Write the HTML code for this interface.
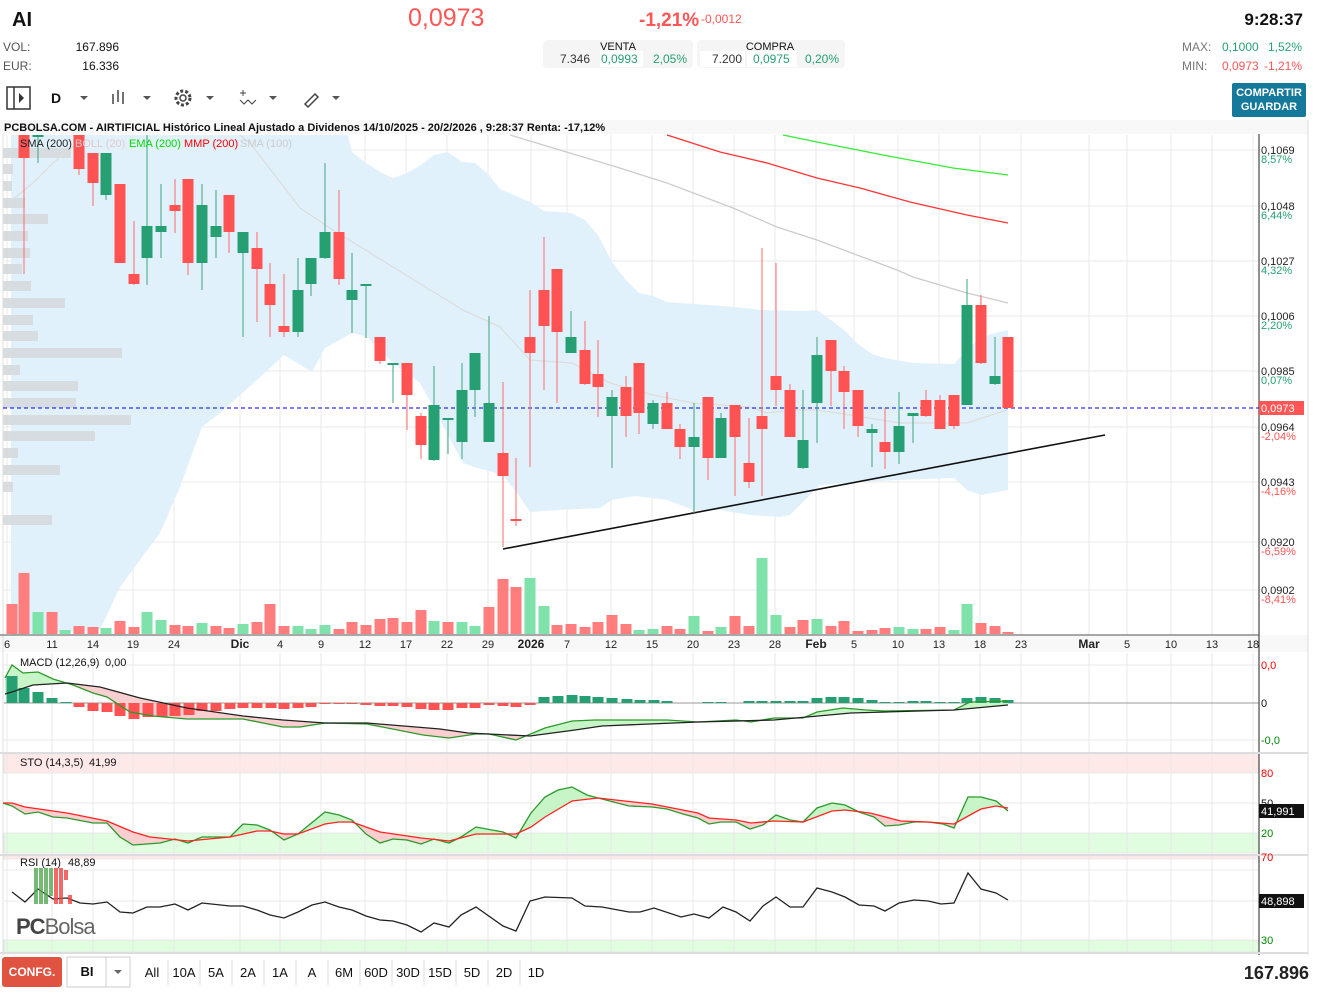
<!DOCTYPE html>
<html><head><meta charset="utf-8">
<style>
html,body{margin:0;padding:0;background:#fff;width:1322px;height:993px;overflow:hidden;font-family:"Liberation Sans",sans-serif}
svg{position:absolute;left:0;top:0}
</style></head><body>
<svg id="s" width="1322" height="993" xmlns="http://www.w3.org/2000/svg" font-family="Liberation Sans, sans-serif">
<text x="12" y="26" font-size="20" font-weight="bold" fill="#111">AI</text>
<text x="408" y="26" font-size="25" fill="#f55">0,0973</text>
<text x="639" y="26" font-size="19" font-weight="bold" fill="#f55">-1,21%</text>
<text x="701" y="23" font-size="12" fill="#f55">-0,0012</text>
<text x="1303" y="25" font-size="17" font-weight="bold" fill="#111" text-anchor="end">9:28:37</text>
<text x="3" y="51" font-size="12" fill="#555">VOL:</text>
<text x="119" y="51" font-size="12" fill="#111" text-anchor="end">167.896</text>
<text x="3" y="70" font-size="12" fill="#555">EUR:</text>
<text x="119" y="70" font-size="12" fill="#111" text-anchor="end">16.336</text>
<rect x="543" y="40" width="150" height="28" rx="4" fill="#f5f5f5"/>
<rect x="697" y="40" width="148" height="28" rx="4" fill="#f5f5f5"/>
<rect x="600" y="51" width="43" height="16" fill="#fff"/><rect x="747" y="51" width="50" height="16" fill="#fff"/><rect x="700" y="51" width="45" height="16" fill="#fff"/>
<text x="618" y="50" font-size="11" fill="#111" text-anchor="middle">VENTA</text>
<text x="770" y="50" font-size="11" fill="#111" text-anchor="middle">COMPRA</text>
<text x="590" y="63" font-size="12" fill="#333" text-anchor="end">7.346</text>
<text x="601" y="63" font-size="12" fill="#26a073">0,0993</text>
<text x="687" y="63" font-size="12" fill="#26a073" text-anchor="end">2,05%</text>
<text x="742" y="63" font-size="12" fill="#333" text-anchor="end">7.200</text>
<text x="753" y="63" font-size="12" fill="#26a073">0,0975</text>
<text x="839" y="63" font-size="12" fill="#26a073" text-anchor="end">0,20%</text>
<text x="1182" y="51" font-size="12" fill="#777">MAX:</text>
<text x="1222" y="51" font-size="12" fill="#26a073">0,1000</text>
<text x="1302" y="51" font-size="12" fill="#26a073" text-anchor="end">1,52%</text>
<text x="1182" y="70" font-size="12" fill="#777">MIN:</text>
<text x="1222" y="70" font-size="12" fill="#f55">0,0973</text>
<text x="1302" y="70" font-size="12" fill="#f55" text-anchor="end">-1,21%</text>
<rect x="1232" y="83" width="74" height="34" rx="2" fill="#14799b"/>
<text x="1269" y="96" font-size="11" font-weight="bold" fill="#fff" text-anchor="middle">COMPARTIR</text>
<text x="1269" y="110" font-size="11" font-weight="bold" fill="#fff" text-anchor="middle">GUARDAR</text>
<rect x="7" y="87" width="23" height="22" fill="none" stroke="#333" stroke-width="1.5"/>
<line x1="14" y1="87" x2="14" y2="109" stroke="#333" stroke-width="1.5"/>
<path d="M19 93 L24 98 L19 103Z" fill="#333"/>
<text x="51" y="103" font-size="14" font-weight="bold" fill="#111">D</text>
<path d="M80 96 h8 l-4 4z M143 96 h8 l-4 4z M206 96 h8 l-4 4z M269 96 h8 l-4 4z M332 96 h8 l-4 4z" fill="#555"/>
<g stroke="#444" stroke-width="1.5"><line x1="113" y1="94" x2="113" y2="104"/><line x1="118" y1="90" x2="118" y2="102"/><line x1="123" y1="92" x2="123" y2="104"/></g>
<circle cx="183" cy="98" r="7" fill="none" stroke="#444" stroke-width="3" stroke-dasharray="3 2"/><circle cx="183" cy="98" r="3" fill="none" stroke="#444" stroke-width="1.5"/>
<path d="M240 100 l4 4 l4 -4 l4 4 l4 -4" fill="none" stroke="#444"/><path d="M243 90 v6 M240 93 h6" stroke="#444"/>
<path d="M305 104 l10 -10 l3 3 l-10 10z" fill="none" stroke="#444" stroke-width="1.5"/>
<rect x="0" y="120" width="1308" height="14" fill="#f8f8f8"/>
<text x="4" y="131" font-size="11" font-weight="bold" fill="#111">PCBOLSA.COM - AIRTIFICIAL Histórico Lineal Ajustado a Dividenos 14/10/2025 - 20/2/2026 , 9:28:37 Renta: -17,12%</text>
<rect x="0" y="635" width="1308" height="17" fill="#f8f8f8"/>
<line x1="1308" y1="120" x2="1308" y2="955" stroke="#ddd"/>
<line x1="3" y1="134" x2="3" y2="955" stroke="#ddd"/>
<g id="grid" stroke="#e8e8e8" stroke-width="1"></g>
<g id="main"></g>
<line x1="1259" y1="134" x2="1259" y2="955" stroke="#222"/>
<line x1="0" y1="635" x2="1259" y2="635" stroke="#555"/>
<rect x="0" y="752" width="1308" height="2" fill="#ddd"/><rect x="0" y="854" width="1308" height="2" fill="#ddd"/><rect x="0" y="952" width="1308" height="2" fill="#ddd"/>
<g font-size="11" fill="#222">
<text x="20" y="147">SMA (200)</text><text x="75" y="147" fill="#e6c8c8">BOLL (20)</text><text x="129" y="147" fill="#0d0">EMA (200)</text><text x="184" y="147" fill="#f00">MMP (200)</text><text x="240" y="147" fill="#ccc">SMA (100)</text>
</g>
<g font-size="11" fill="#222">
<text x="1261" y="154">0,1069</text><text x="1261" y="163" fill="#26a073">8,57%</text>
<text x="1261" y="210">0,1048</text><text x="1261" y="219" fill="#26a073">6,44%</text>
<text x="1261" y="265">0,1027</text><text x="1261" y="274" fill="#26a073">4,32%</text>
<text x="1261" y="320">0,1006</text><text x="1261" y="329" fill="#26a073">2,20%</text>
<text x="1261" y="375">0,0985</text><text x="1261" y="384" fill="#26a073">0,07%</text>
<text x="1261" y="431">0,0964</text><text x="1261" y="440" fill="#f55">-2,04%</text>
<text x="1261" y="486">0,0943</text><text x="1261" y="495" fill="#f55">-4,16%</text>
<text x="1261" y="546">0,0920</text><text x="1261" y="555" fill="#f55">-6,59%</text>
<text x="1261" y="594">0,0902</text><text x="1261" y="603" fill="#f55">-8,41%</text>
</g>
<rect x="1259" y="401" width="45" height="14" fill="#f55"/>
<text x="1261" y="412" font-size="11" fill="#fff">0,0973</text>
<g font-size="11" fill="#222" text-anchor="middle">
<text x="7" y="648">6</text><text x="52" y="648">11</text><text x="93" y="648">14</text><text x="133" y="648">19</text><text x="174" y="648">24</text><text x="240" y="648" font-weight="bold" font-size="12">Dic</text><text x="280" y="648">4</text><text x="321" y="648">9</text><text x="365" y="648">12</text><text x="406" y="648">17</text><text x="447" y="648">22</text><text x="488" y="648">29</text><text x="531" y="648" font-weight="bold" font-size="12">2026</text><text x="567" y="648">7</text><text x="611" y="648">12</text><text x="652" y="648">15</text><text x="693" y="648">20</text><text x="734" y="648">23</text><text x="775" y="648">28</text><text x="816" y="648" font-weight="bold" font-size="12">Feb</text><text x="854" y="648">5</text><text x="898" y="648">10</text><text x="939" y="648">13</text><text x="980" y="648">18</text><text x="1021" y="648">23</text><text x="1089" y="648" font-weight="bold" font-size="12">Mar</text><text x="1127" y="648">5</text><text x="1171" y="648">10</text><text x="1212" y="648">13</text><text x="1253" y="648">18</text>
</g>
<g font-size="11" fill="#111">
<text x="20" y="666">MACD (12,26,9)</text><text x="105" y="666">0,00</text>
<text x="20" y="766">STO (14,3,5)</text><text x="89" y="766">41,99</text>
<text x="20" y="866">RSI (14)</text><text x="68" y="866">48,89</text>
</g>
<g font-size="11">
<text x="1261" y="669" fill="#f00">0,0</text><text x="1261" y="707" fill="#111">0</text><text x="1261" y="744" fill="#080">-0,0</text>
<text x="1261" y="777" fill="#f00">80</text><text x="1261" y="807" fill="#111">50</text><text x="1261" y="837" fill="#080">20</text>
<text x="1261" y="861" fill="#f00">70</text><text x="1261" y="944" fill="#080">30</text>
</g>
<rect x="1259" y="804" width="45" height="14" fill="#111"/><text x="1261" y="815" font-size="11" fill="#fff">41,991</text>
<rect x="1259" y="894" width="45" height="14" fill="#111"/><text x="1261" y="905" font-size="11" fill="#fff">48,898</text>
<g opacity="0.8"><g stroke-width="4"><line x1="36" y1="868" x2="36" y2="904" stroke="#5a5"/><line x1="41" y1="868" x2="41" y2="904" stroke="#5a5"/><line x1="46" y1="868" x2="46" y2="904" stroke="#5a5"/><line x1="51" y1="868" x2="51" y2="896" stroke="#5a5"/><line x1="56" y1="868" x2="56" y2="904" stroke="#e44"/><line x1="61" y1="868" x2="61" y2="904" stroke="#e44"/><line x1="66" y1="870" x2="66" y2="880" stroke="#e44"/><line x1="70" y1="895" x2="70" y2="904" stroke="#e44"/></g></g>
<text x="16" y="934" font-size="22" fill="#444" font-weight="bold" letter-spacing="-1">PC<tspan font-weight="normal" fill="#666">Bolsa</tspan></text>
<rect x="2" y="957" width="60" height="30" rx="3" fill="#df5340"/>
<text x="32" y="976" font-size="12" font-weight="bold" fill="#fff" text-anchor="middle">CONFG.</text>
<rect x="67" y="957" width="63" height="30" fill="#fff" stroke="#ccc"/><line x1="106" y1="957" x2="106" y2="987" stroke="#ccc"/>
<text x="87" y="976" font-size="13" font-weight="bold" fill="#111" text-anchor="middle">BI</text>
<path d="M114 970 h8 l-4 4z" fill="#666"/>
<g font-size="13" fill="#111" text-anchor="middle">
<text x="152" y="977">All</text><text x="184" y="977">10A</text><text x="216" y="977">5A</text><text x="248" y="977">2A</text><text x="280" y="977">1A</text><text x="312" y="977">A</text><text x="344" y="977">6M</text><text x="376" y="977">60D</text><text x="408" y="977">30D</text><text x="440" y="977">15D</text><text x="472" y="977">5D</text><text x="504" y="977">2D</text><text x="536" y="977">1D</text>
</g>
<g stroke="#ddd"><line x1="168" y1="960" x2="168" y2="985"/><line x1="200" y1="960" x2="200" y2="985"/><line x1="232" y1="960" x2="232" y2="985"/><line x1="264" y1="960" x2="264" y2="985"/><line x1="296" y1="960" x2="296" y2="985"/><line x1="328" y1="960" x2="328" y2="985"/><line x1="360" y1="960" x2="360" y2="985"/><line x1="392" y1="960" x2="392" y2="985"/><line x1="424" y1="960" x2="424" y2="985"/><line x1="456" y1="960" x2="456" y2="985"/><line x1="488" y1="960" x2="488" y2="985"/><line x1="520" y1="960" x2="520" y2="985"/></g>
<text x="1309" y="979" font-size="18" font-weight="bold" fill="#222" text-anchor="end">167.896</text>
</svg>
<script>
var NS="http://www.w3.org/2000/svg";
function el(p,t,a){var e=document.createElementNS(NS,t);for(var k in a)e.setAttribute(k,a[k]);p.appendChild(e);return e;}
var G=document.getElementById('grid'),M=document.getElementById('main');
el(G,'rect',{x:4,y:754,width:1255,height:19,fill:'#ffe8e8'});
el(G,'rect',{x:4,y:833,width:1255,height:20,fill:'#e0fde0'});
el(G,'rect',{x:4,y:856,width:1255,height:3,fill:'#ffe8e8'});
el(G,'rect',{x:4,y:940,width:1255,height:12,fill:'#e0fde0'});
[7,52,93,133,174,240,280,321,365,406,447,488,531,567,611,652,693,734,775,816,854,898,939,980,1021,1089,1127,1171,1212,1253].forEach(function(x){el(G,'line',{x1:x,y1:135,x2:x,y2:635});el(G,'line',{x1:x,y1:653,x2:x,y2:952});});
[150,206,261,316,371,427,482,542,590].forEach(function(y){el(G,'line',{x1:4,y1:y,x2:1259,y2:y});});
[665,740,773,803,833,870,901,940].forEach(function(y){el(G,'line',{x1:4,y1:y,x2:1259,y2:y});});
el(G,'line',{x1:4,y1:703,x2:1259,y2:703,stroke:'#999'});
var up=[[11,135],[348,135],[352,152],[366,163],[380,172],[393,178],[407,173],[421,165],[434,155],[448,152],[462,162],[475,163],[489,175],[500,189],[530,202],[544,211],[571,213],[585,220],[598,235],[612,262],[626,280],[639,293],[653,296],[667,302],[694,304],[735,307],[762,310],[803,311],[817,310],[831,320],[844,330],[858,344],[872,354],[885,358],[913,363],[954,364],[967,350],[981,337],[995,333],[1008,330]];
var lo=[[11,635],[100,630],[120,587],[160,533],[180,487],[202,427],[220,413],[257,380],[284,355],[312,372],[325,348],[352,333],[367,337],[393,363],[420,383],[433,407],[463,463],[477,468],[503,475],[520,497],[530,512],[560,510],[600,508],[612,500],[635,496],[667,500],[694,510],[720,510],[750,515],[780,517],[790,515],[800,505],[820,485],[858,482],[900,480],[954,478],[967,490],[981,495],[1008,490]];
function pts(a){return a.map(function(p){return p.join(',')}).join(' ');}
el(M,'polygon',{points:pts(up.concat(lo.slice().reverse())),fill:'#e1f1fc'});
[[148,68],[164,10],[181,9],[198,22],[214,45],[231,25],[248,27],[264,19],[281,28],[298,62],[315,30],[331,35],[348,119],[365,17],[381,75],[398,73],[415,128],[431,92],[448,15],[465,57],[482,10],[515,49]].forEach(function(b){el(M,'rect',{x:3,y:b[0],width:b[1],height:10,fill:'#d5d9dd',opacity:0.9});});
el(M,'polyline',{points:pts([[12,200],[33,183],[53,163],[77,143],[85,135]]),fill:'none',stroke:'#ddd','stroke-width':1.3});
el(M,'polyline',{points:pts([[240,135],[250,143],[300,208],[333,230],[393,267],[463,310],[500,327],[530,360],[572,363],[610,383],[653,395],[693,403],[750,407],[767,413],[790,410],[817,410],[850,415],[900,423],[967,423],[1007,410]]),fill:'none',stroke:'#ddd','stroke-width':1.3});
el(M,'polyline',{points:pts([[510,135],[553,148],[610,165],[667,183],[733,208],[777,227],[817,240],[857,255],[897,270],[913,277],[967,293],[1008,303]]),fill:'none',stroke:'#ccc','stroke-width':1.3});
el(M,'polyline',{points:pts([[667,135],[720,152],[767,163],[817,178],[860,188],[910,202],[967,215],[1008,223]]),fill:'none',stroke:'#f33','stroke-width':1.3});
el(M,'polyline',{points:pts([[783,135],[817,142],[883,155],[953,168],[1008,175]]),fill:'none',stroke:'#3e3','stroke-width':1.3});
var V="12r604 24r573 38g612 52r612 65g630 79r626 93r627 106g628 120r621 134r627 147g612 161g620 175r625 188r626 202g623 216r626 229r628 243g624 257r622 270r604 284r626 298g626 311g629 325g625 339r629 352r622 366r625 380r619 393r618 407r622 421r610 434g621 448r622 462g622 475g626 489r607 503r579 516r587 530g578 544g606 557r625 571r624 585r627 598r622 612r615 626r624 639g630 653g629 667r626 680r629 694g616 708r631 721g627 735r616 749r626 762g558 776g615 790r627 803r620 817g619 831r626 844r621 858r631 872r630 885r628 899g627 913g629 926r629 940r627 954g630 967g604 981r623 995r626 1008r632";
V.split(' ').forEach(function(s){var m=s.match(/(\d+)([rg])(\d+)/);var x=+m[1],y=+m[3];el(M,'rect',{x:x-5.5,y:y,width:11,height:634-y,fill:m[2]=='r'?'#ff7676':'#78e0a6',opacity:0.95});});
el(M,'line',{x1:3,y1:408,x2:1259,y2:408,stroke:'#00f','stroke-dasharray':'4 3'});
el(M,'line',{x1:503,y1:549,x2:1105,y2:435,stroke:'#111','stroke-width':1.6});
var C=[[24,'r',135,158,135,274],[38,'g',135,135,135,163],[79,'r',135,169,135,175],[93,'r',153,183,153,206],[106,'g',153,195,153,200],[120,'r',184,263,184,263],[134,'r',274,284,221,285],[147,'g',226,258,135,285],[161,'g',226,232,184,258],[175,'r',205,211,179,233],[188,'r',179,263,179,275],[202,'g',205,263,184,290],[216,'g',226,237,190,258],[229,'r',195,232,195,253],[243,'g',232,253,232,337],[257,'r',248,269,232,322],[270,'r',284,305,263,337],[284,'r',326,332,274,337],[298,'g',290,332,258,337],[311,'g',258,284,258,296],[325,'g',232,258,163,259],[339,'r',232,279,190,285],[352,'g',290,300,253,333],[366,'g',284,285,284,338],[380,'r',337,361,337,364],[393,'g',363,364,363,403],[407,'r',363,395,363,430],[421,'r',416,445,413,459],[434,'g',405,460,366,461],[448,'g',418,419,418,454],[462,'g',390,442,363,459],[475,'g',353,390,353,417],[489,'g',403,442,316,442],[503,'r',453,476,382,547],[516,'r',519,521,458,526],[530,'r',337,353,290,467],[544,'r',290,326,237,390],[557,'r',269,332,269,403],[571,'g',337,353,311,353],[585,'r',350,384,321,385],[598,'r',374,387,340,417],[612,'g',397,416,390,468],[626,'r',387,416,376,437],[639,'r',363,413,363,434],[653,'g',403,424,400,429],[667,'r',403,429,392,429],[680,'r',429,447,424,459],[694,'g',437,447,403,513],[708,'r',397,458,397,480],[721,'g',418,458,413,458],[735,'r',405,437,405,496],[749,'r',463,482,418,488],[762,'r',416,429,248,496],[776,'r',376,390,263,406],[790,'r',390,437,384,437],[803,'g',440,468,390,469],[817,'g',355,403,337,443],[831,'r',340,371,340,406],[844,'r',371,392,366,429],[858,'r',390,426,390,437],[872,'g',429,433,424,467],[885,'r',442,452,408,469],[899,'g',426,452,392,464],[913,'g',413,416,413,443],[926,'r',400,416,390,417],[940,'r',400,429,395,429],[954,'r',395,426,395,429],[967,'g',305,405,279,405],[981,'r',305,363,295,364],[995,'g',376,384,337,385],[1008,'r',337,408,337,408]];
C.forEach(function(c){var col=c[1]=='r'?'#ff5252':'#26a073';el(M,'line',{x1:c[0],y1:c[4],x2:c[0],y2:c[5],stroke:c[1]=='r'?'#ff6b6b':'#3aa57c','stroke-width':1});el(M,'rect',{x:c[0]-5.5,y:c[2],width:11,height:Math.max(2,c[3]-c[2]),fill:col});});
var cid=0;
function fillBetween(A,B,ga,pb){var poly=pts(A.concat(B.slice().reverse()));var b0=B[0],b1=B[B.length-1];
 var upR=[[0,b0[1]]].concat(B).concat([[1260,b1[1]],[1260,0],[0,0]]);var dnR=[[0,b0[1]]].concat(B).concat([[1260,b1[1]],[1260,993],[0,993]]);
 var d=document.querySelector('defs')||el(document.getElementById('s'),'defs',{});
 var c1='c'+(cid++),c2='c'+(cid++);el(el(d,'clipPath',{id:c1}),'polygon',{points:pts(upR)});el(el(d,'clipPath',{id:c2}),'polygon',{points:pts(dnR)});
 el(M,'polygon',{points:poly,fill:ga,'clip-path':'url(#'+c1+')'});el(M,'polygon',{points:poly,fill:pb,'clip-path':'url(#'+c2+')'});}
var H="12g676 24g688 38g692 52g698 66g702 79r707 93r711 107r712 120r716 134r719 148r717 162r717 175r716 189r715 202r711 216r711 230r709 243r708 257r708 271r708 284r709 298r708 311r707 325r704 339r704 352r704 366r705 380r706 393r706 407r707 421r709 434r710 448r710 462r708 475r708 489r705 503r706 516r707 530r705 544g697 558g696 572g695 585g696 598g697 612g698 627g699 640g700 654g700 667g701 708g702 721g702 749g701 762g701 776g701 790g701 803g701 817g698 831g697 844g697 858g698 872g700 885g702 899g702 913g701 926g701 940g702 954g702 967g698 981g697 995g698 1008g700";
var macd=[[5,678],[12,665],[23,673],[38,672],[53,679],[73,685],[93,693],[107,697],[130,712],[153,716],[187,719],[243,719],[283,727],[300,727],[325,723],[367,724],[423,735],[449,738],[476,734],[489,734],[516,740],[545,728],[572,721],[595,720],[667,720],[698,722],[736,720],[751,722],[774,718],[803,718],[817,712],[843,708],[866,710],[885,711],[954,710],[970,702],[1008,701]];
var sig=[[5,694],[12,692],[33,685],[67,683],[100,687],[140,698],[187,708],[243,716],[283,720],[325,723],[367,723],[440,729],[468,733],[530,736],[575,730],[602,726],[698,722],[774,720],[851,713],[954,710],[1008,705]];
fillBetween(macd,sig,'#c8f5c8','#fbcfcf');
H.split(' ').forEach(function(s){var m=s.match(/(\d+)([rg])(\d+)/);var x=+m[1],y=+m[3];el(M,'rect',{x:x-5.5,y:Math.min(y,703),width:11,height:Math.max(1,Math.abs(y-703)),fill:m[2]=='r'?'#ff5252':'#26a073'});});
el(M,'polyline',{points:pts(macd),fill:'none',stroke:'#2a9a2a','stroke-width':1.3});
el(M,'polyline',{points:pts(sig),fill:'none',stroke:'#222','stroke-width':1.3});
var K=[[3,803],[12,806],[25,814],[38,812],[53,817],[67,818],[93,823],[107,823],[120,837],[133,845],[160,843],[175,839],[188,843],[202,837],[230,837],[243,824],[257,825],[270,830],[284,840],[298,834],[325,812],[339,815],[352,820],[366,834],[380,843],[393,839],[407,840],[421,844],[434,839],[449,843],[461,837],[476,827],[503,832],[516,838],[531,813],[545,797],[558,790],[572,787],[587,795],[602,799],[629,806],[652,807],[667,809],[683,814],[698,818],[709,824],[721,822],[736,822],[750,829],[763,825],[776,815],[790,820],[803,822],[817,808],[832,803],[845,805],[859,812],[874,817],[885,826],[899,825],[914,822],[928,822],[943,824],[954,828],[968,797],[981,797],[996,801],[1008,811]];
var D=[[3,803],[12,803],[25,807],[67,813],[107,821],[133,832],[150,837],[188,841],[230,837],[257,831],[270,831],[284,834],[298,834],[325,824],[339,822],[352,822],[366,827],[380,832],[421,838],[440,840],[449,841],[476,834],[516,834],[531,827],[545,817],[572,801],[598,798],[652,804],[698,813],[709,818],[736,820],[751,823],[774,821],[803,822],[832,811],[845,810],[870,813],[901,821],[928,822],[954,824],[970,815],[981,809],[996,806],[1008,808]];
fillBetween(K,D,'#c8f5c8','#fbcfcf');
el(M,'polyline',{points:pts(K),fill:'none',stroke:'#2a9a2a','stroke-width':1.3});
el(M,'polyline',{points:pts(D),fill:'none',stroke:'#f22','stroke-width':1.3});
var R=[[12,892],[25,902],[38,889],[53,899],[67,898],[80,903],[93,904],[107,902],[120,912],[133,913],[147,907],[160,907],[175,904],[188,910],[202,903],[230,906],[243,906],[257,910],[270,915],[284,918],[298,912],[312,905],[325,902],[339,907],[352,910],[366,916],[380,920],[393,921],[407,925],[421,932],[434,923],[449,927],[461,915],[476,907],[503,926],[516,931],[530,901],[545,897],[572,898],[585,906],[602,907],[629,912],[640,912],[654,908],[681,917],[694,914],[709,918],[723,907],[736,912],[750,921],[763,906],[776,897],[790,907],[803,907],[817,888],[832,892],[845,897],[859,905],[874,906],[885,911],[899,903],[914,900],[928,901],[941,904],[954,903],[968,873],[981,889],[996,893],[1008,900]];
el(M,'polyline',{points:pts(R),fill:'none',stroke:'#222','stroke-width':1.3});
</script>
</body></html>
